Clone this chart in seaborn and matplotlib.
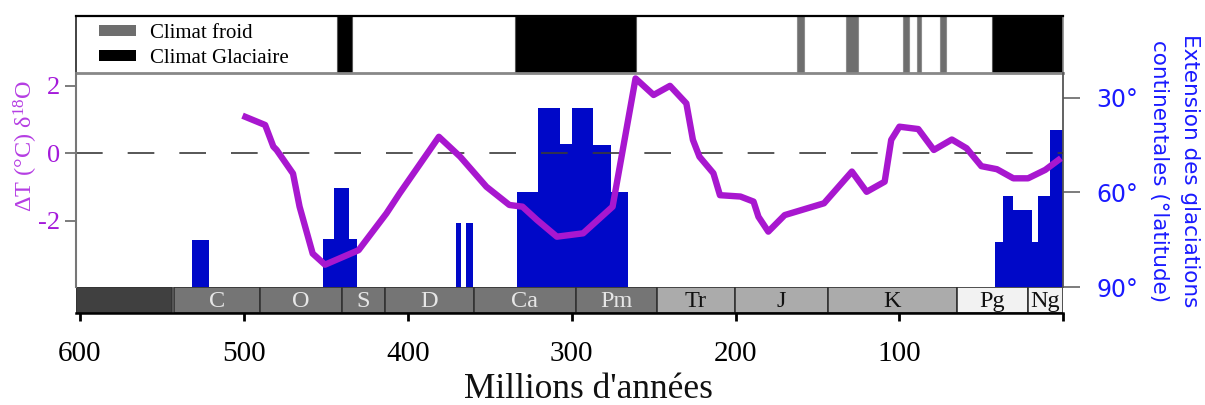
import numpy as np
import matplotlib
matplotlib.use('Agg')
import matplotlib.pyplot as plt
import seaborn as sns
from matplotlib.patches import Patch

# ---------------- data ----------------
# Temperature anomaly curve (age in Ma, delta T in °C)
temp_age = [499, 487, 482, 480, 470, 466, 458, 450.5, 430, 413, 405, 381, 368, 352,
            338, 330, 321, 309, 293, 275, 261, 250, 240, 230, 226, 222, 213.5, 209.5,
            197, 189, 186, 180, 170, 146, 129, 120, 109, 105, 100, 88.5, 79, 68, 59,
            50, 40.5, 30.5, 21.5, 11, 3]
temp_dT = [1.08, 0.84, 0.2, 0.1, -0.6, -1.58, -2.97, -3.3, -2.87, -1.78, -1.19, 0.49,
           -0.1, -0.99, -1.53, -1.58, -1.98, -2.47, -2.37, -1.58, 2.22, 1.73, 2.0, 1.48,
           0.4, -0.1, -0.59, -1.24, -1.28, -1.43, -1.88, -2.32, -1.83, -1.48, -0.54,
           -1.14, -0.84, 0.4, 0.79, 0.72, 0.1, 0.41, 0.15, -0.38, -0.47, -0.74, -0.74,
           -0.49, -0.2]

# Continental glaciation extent (latitude reached), per time interval
glac_start = [531.8, 451.5, 444.8, 370.7, 364.4, 333.5, 320.7, 307.1, 299.9, 286.8,
              276.0, 41.7, 36.6, 30.9, 19.3, 15.3, 8.1]
glac_end = [521.2, 431.1, 435.8, 367.7, 360.0, 320.7, 307.1, 299.9, 286.8, 276.0,
            265.4, 36.6, 30.9, 19.3, 15.3, 8.1, 0.0]
glac_lat = [75.0, 74.7, 58.7, 69.6, 69.6, 59.9, 33.2, 44.6, 33.4, 45.1, 59.9,
            75.7, 61.0, 65.7, 75.7, 61.0, 40.3]

# Climate states (top band)
cold_start = [162.3, 132.6, 98.0, 89.4, 75.0]
cold_end = [158.2, 125.1, 94.1, 86.8, 71.4]
glacial_start = [443.3, 334.5, 43.3]
glacial_end = [434.2, 260.9, 0.0]

# Geological periods (bottom band)
period_names = ['', 'C', 'O', 'S', 'D', 'Ca', 'Pm', 'Tr', 'J', 'K', 'Pg', 'Ng']
period_start = [602.6, 542.6, 490, 440, 414, 359.5, 297.5, 248, 200.3, 143.4, 65, 21.7]
period_end = [544.0, 490, 440, 414, 359.5, 297.5, 248, 200.3, 143.4, 65, 21.7, 0]
period_fill = ['#404040'] + ['#757575'] * 6 + ['#ABABAB'] * 3 + ['#F2F2F2'] * 2
period_text = ['white'] + ['#E6E6E6'] * 6 + ['#111111'] * 5

x_ticks = [600, 500, 400, 300, 200, 100, 0]
x_ticklabels = ['600', '500', '400', '300', '200', '100', '']

# ---------------- style ----------------
PURPLE = '#A817CF'
PURPLE_TXT = '#A41ADA'
PURPLE_LBL = '#B53DE3'
BLUE = '#0008C8'
BLUE_TXT = '#1A1AFF'
XLIM = (602.6, 0)

plt.rcParams['font.family'] = ['Liberation Serif', 'DejaVu Serif']
plt.rcParams['mathtext.fontset'] = 'custom'
plt.rcParams['mathtext.rm'] = 'Liberation Serif'
plt.rcParams['mathtext.it'] = 'Liberation Serif:italic'

W, H = 1205, 405
fig = plt.figure(figsize=(W / 100, H / 100), dpi=100)

L = 75.7 / W
AW = (1063.3 - 75.7) / W

def fy(top_px, bot_px):
    return [1 - bot_px / H, (bot_px - top_px) / H]

b, h = fy(16, 72.7)
axt = fig.add_axes([L, b, AW, h])
b, h = fy(72.7, 287.3)
ax = fig.add_axes([L, b, AW, h])
b, h = fy(287.3, 313.3)
axp = fig.add_axes([L, b, AW, h])

# ---------------- top band ----------------
cs, ce = np.array(cold_start), np.array(cold_end)
gs, ge = np.array(glacial_start), np.array(glacial_end)
axt.bar(ce, 1, width=cs - ce, align='edge', color='#6E6E6E', edgecolor='#8C8C8C', linewidth=0.8)
axt.bar(ge, 1, width=gs - ge, align='edge', color='black', edgecolor='#555555', linewidth=0.8)
axt.set_xlim(*XLIM)
axt.set_ylim(0, 1)
axt.set_xticks([])
axt.set_yticks([])
axt.spines['top'].set_color('black')
axt.spines['top'].set_linewidth(1.6)
axt.spines['left'].set_color('#222222')
axt.spines['left'].set_linewidth(1.2)
axt.spines['right'].set_color('#888888')
axt.spines['right'].set_linewidth(1.2)
axt.spines['bottom'].set_color('#888888')
axt.spines['bottom'].set_linewidth(2.0)
axt.legend(handles=[Patch(facecolor='#6E6E6E', label='Climat froid'),
                    Patch(facecolor='black', label='Climat Glaciaire')],
           loc='upper left', bbox_to_anchor=(0.0233, 0.86), frameon=False,
           fontsize=15, handlelength=1.8, handleheight=0.45, handletextpad=0.65,
           labelspacing=0.3, borderpad=0, borderaxespad=0)

# ---------------- main panel ----------------
ax2 = ax.twinx()
gls, gle, glt = np.array(glac_start), np.array(glac_end), np.array(glac_lat)
ax2.bar(gle, glt - 90, bottom=90, width=gls - gle, align='edge', color=BLUE, linewidth=0)
ax2.set_ylim(90, 22.1)
ax2.set_yticks([30, 60, 90])
ax2.set_yticklabels(['30°', '60°', '90°'], color=BLUE_TXT, fontsize=17, family='DejaVu Sans')
ax2.tick_params(axis='y', length=12, width=1.2, color='#666666', pad=12)
for s in ['top', 'bottom', 'left']:
    ax2.spines[s].set_visible(False)
ax2.spines['right'].set_color('#555555')
ax2.spines['right'].set_linewidth(1.3)

ax.set_zorder(ax2.get_zorder() + 1)
ax.patch.set_visible(False)
ax.axhline(0, color='#3A3A3A', linewidth=1.2, linestyle=(0, (16, 15)))
sns.lineplot(x=temp_age, y=temp_dT, ax=ax, color=PURPLE, linewidth=4.6,
             sort=False, estimator=None)
ax.set_xlim(*XLIM)
ax.set_ylim(-3.97, 2.39)
ax.set_yticks([-2, 0, 2])
ax.set_yticklabels(['-2', '0', '2'], color=PURPLE_TXT, fontsize=19)
ax.tick_params(axis='y', length=8, width=1.2, color='#666666', pad=3)
ax.set_xticks([])
ax.set_xlabel('')
ax.set_ylabel('')
for s in ['top', 'bottom', 'right']:
    ax.spines[s].set_visible(False)
ax.spines['left'].set_color('#777777')
ax.spines['left'].set_linewidth(1.5)

# ---------------- period band ----------------
ps, pe = np.array(period_start), np.array(period_end)
axp.bar(pe, 1, width=ps - pe, align='edge', color=period_fill, edgecolor='#333333', linewidth=1.2)
for name, s0, e0, c in zip(period_names, period_start, period_end, period_text):
    axp.text((s0 + e0) / 2, 0.47, name, ha='center', va='center', color=c, fontsize=17.5)
axp.set_xlim(*XLIM)
axp.set_ylim(0, 1)
axp.set_yticks([])
axp.set_xticks(x_ticks)
axp.set_xticklabels(x_ticklabels, fontsize=21)
axp.tick_params(axis='x', length=6, width=2, color='black', pad=14)
for s in ['top', 'left', 'right']:
    axp.spines[s].set_visible(False)
axp.spines['bottom'].set_color('black')
axp.spines['bottom'].set_linewidth(1.8)

# ---------------- axis titles ----------------
fig.text(588 / W, 1 - 390 / H, "Millions d'années", ha='center', va='center',
         fontsize=25.5, color='#111111')
fig.text(26 / W, 1 - 145.5 / H, r'ΔT (°C) δ$^{18}$O', rotation=90, ha='center', va='center',
         color=PURPLE_LBL, fontsize=17.5)
fig.text(1189.5 / W, 1 - 171 / H, 'Extension des glaciations', rotation=270,
         ha='center', va='center', color=BLUE_TXT, fontsize=15.5, family='DejaVu Sans')
fig.text(1159.5 / W, 1 - 171 / H, 'continentales (°latitude)', rotation=270,
         ha='center', va='center', color=BLUE_TXT, fontsize=15.5, family='DejaVu Sans')

fig.savefig('out.png', dpi=100)
